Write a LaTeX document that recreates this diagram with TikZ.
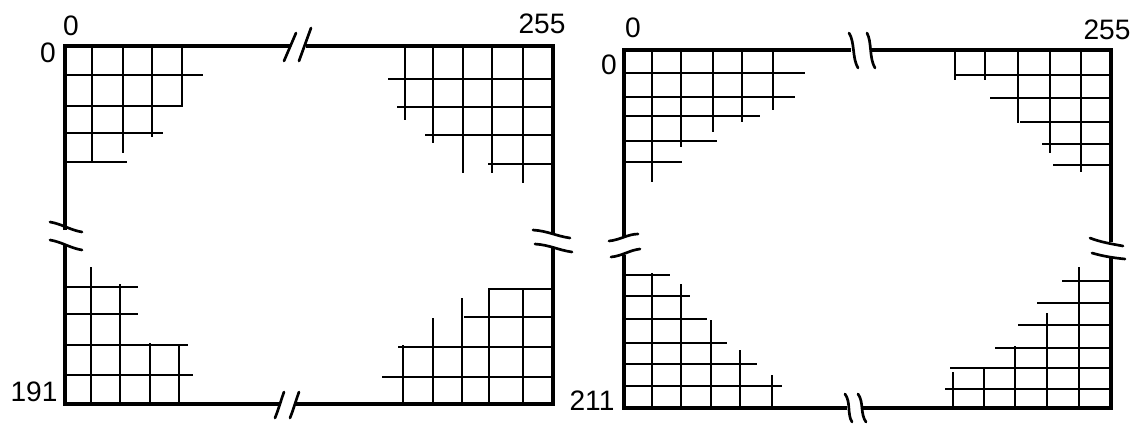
\documentclass[tikz,border=0pt]{standalone}
\usepackage{fontspec}
\setmainfont{Liberation Sans}
\usetikzlibrary{positioning}

\begin{document}
\begin{tikzpicture}[
  x=0.025cm, y=-0.025cm,
  frame/.style={line width=2.2pt, black},
  cell/.style={line width=1.6pt, black},
  brk/.style={line width=1.9pt, black, line cap=round},
  lbl/.style={font=\fontsize{20}{24}\selectfont, text=black, inner sep=0pt},
]

% Background
\useasboundingbox (0,0) rectangle (1140,423);
\fill[white] (0,0) rectangle (1140,423);

% =============================================
% LEFT: 256 x 192 frame
% =============================================

% Frame edges, each one broken once
\draw[frame] (65,230) -- (65,46) -- (290,46);
\draw[frame] (306,46) -- (553,46) -- (553,235);
\draw[frame] (553,247) -- (553,404) -- (295,404);
\draw[frame] (279,404) -- (65,404) -- (65,245);

% Break marks
\draw[brk] (284,61) -- (296,33);
\draw[brk] (299,61) -- (311,28);
\draw[brk] (275,418) .. controls (279,408) and (281,400) .. (284,392);
\draw[brk] (290,418) .. controls (294,408) and (296,400) .. (299,392);
\draw[brk] (50,222) .. controls (62,224) and (70,230) .. (82,232);
\draw[brk] (50,240) .. controls (62,242) and (70,248) .. (82,250);
\draw[brk] (533,230) .. controls (548,231) and (556,236) .. (570,238);
\draw[brk] (535,244) .. controls (550,245) and (558,250) .. (572,252);

% Top-left cells
\foreach \y/\xe in {75/203, 106/182, 133/163, 162/127}
  \draw[cell] (65,\y) -- (\xe,\y);
\foreach \x/\ye in {92/163, 123/153, 152/137, 182/107}
  \draw[cell] (\x,46) -- (\x,\ye);

% Top-right cells
\foreach \y/\xs in {79/388, 107/397, 135/425, 164/488}
  \draw[cell] (\xs,\y) -- (553,\y);
\foreach \x/\ye in {405/120, 433/143, 463/173, 492/173, 523/183}
  \draw[cell] (\x,46) -- (\x,\ye);

% Bottom-left cells
\foreach \y/\xe in {287/138, 314/138, 345/188, 375/193}
  \draw[cell] (65,\y) -- (\xe,\y);
\foreach \x/\ys in {91/267, 120/284, 150/343, 179/345}
  \draw[cell] (\x,\ys) -- (\x,404);

% Bottom-right cells
\foreach \y/\xs in {289/488, 317/464, 347/398, 377/382}
  \draw[cell] (\xs,\y) -- (553,\y);
\foreach \x/\ys in {403/345, 433/318, 462/298, 489/288, 523/289}
  \draw[cell] (\x,\ys) -- (\x,404);

% Labels
\node[lbl] (a-col0) at (71,26) {0};
\node[lbl] (a-row0) at (48,53) {0};
\node[lbl] (a-colmax) at (542,24) {255};
\node[lbl] (a-rowmax) at (34,392) {191};

% =============================================
% RIGHT: 256 x 212 frame
% =============================================

% Frame edges, each one broken once
\draw[frame] (624,237) -- (624,50) -- (851,50);
\draw[frame] (872,50) -- (1111,50) -- (1111,242);
\draw[frame] (1111,258) -- (1111,408) -- (862,408);
\draw[frame] (847,408) -- (624,408) -- (624,255);

% Break marks
\draw[brk] (849,33) .. controls (855,42) and (852,58) .. (858,68);
\draw[brk] (867,33) .. controls (872,42) and (869,58) .. (875,68);
\draw[brk] (845,394) .. controls (851,402) and (847,414) .. (852,422);
\draw[brk] (858,394) .. controls (864,402) and (860,414) .. (866,422);
\draw[brk] (609,241) .. controls (620,240) and (628,234) .. (638,234);
\draw[brk] (611,257) .. controls (622,256) and (630,250) .. (640,249);
\draw[brk] (1090,238) .. controls (1100,242) and (1112,244) .. (1123,246);
\draw[brk] (1092,253) .. controls (1102,256) and (1114,258) .. (1125,259);

% Top-left cells
\foreach \y/\xe in {73/805, 97/795, 116/760, 141/717, 162/682}
  \draw[cell] (624,\y) -- (\xe,\y);
\foreach \x/\ye in {652/182, 681/147, 713/132, 742/122, 773/110}
  \draw[cell] (\x,50) -- (\x,\ye);

% Top-right cells
\foreach \y/\xs in {75/955, 98/990, 122/1020, 144/1042, 165/1053}
  \draw[cell] (\xs,\y) -- (1111,\y);
\foreach \x/\ye in {955/80, 985/80, 1018/123, 1050/153, 1081/172}
  \draw[cell] (\x,50) -- (\x,\ye);

% Bottom-left cells
\foreach \y/\xe in {275/670, 296/690, 319/707, 343/727, 364/757, 386/782}
  \draw[cell] (624,\y) -- (\xe,\y);
\foreach \x/\ys in {652/273, 681/284, 711/320, 740/350, 772/375}
  \draw[cell] (\x,\ys) -- (\x,408);

% Bottom-right cells
\foreach \y/\xs in {281/1062, 303/1037, 325/1018, 348/995, 368/950, 389/945}
  \draw[cell] (\xs,\y) -- (1111,\y);
\foreach \x/\ys in {953/372, 984/368, 1015/346, 1047/313, 1079/267}
  \draw[cell] (\x,\ys) -- (\x,408);

% Labels
\node[lbl] (b-col0) at (633,28) {0};
\node[lbl] (b-row0) at (609,65) {0};
\node[lbl] (b-colmax) at (1107,30) {255};
\node[lbl] (b-rowmax) at (592,401) {211};

\end{tikzpicture}
\end{document}
